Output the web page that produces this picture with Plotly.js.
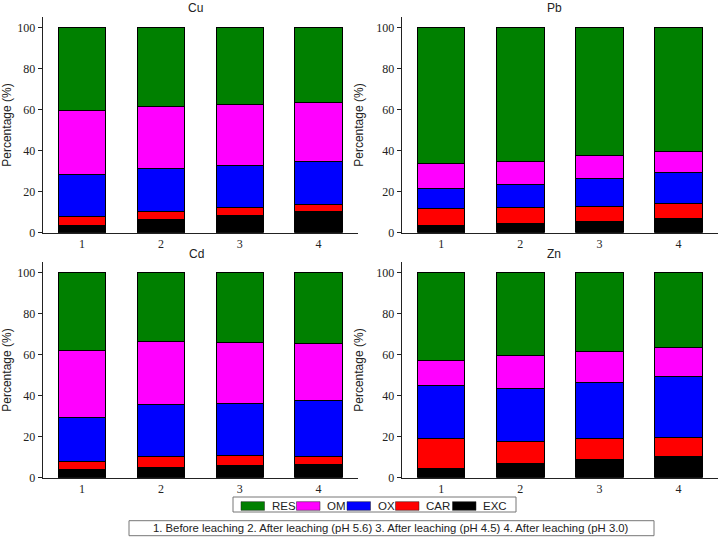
<!DOCTYPE html>
<html>
<head>
<meta charset="utf-8">
<script src="https://cdn.plot.ly/plotly-3.0.1.min.js"></script>
<style>
  body { margin: 0; background: #fff; }
  #chart { width: 720px; height: 540px; }
</style>
</head>
<body>
<div id="chart"></div>
<script>
/******************** DATA ********************/
const categories = ['1', '2', '3', '4'];
// fractions listed bottom -> top of each stack
const fractions = ['EXC', 'CAR', 'OX', 'OM', 'RES'];
const fractionColors = ['#000000', '#ff0000', '#0000ff', '#ff00ff', '#008000'];
const legendOrder = ['RES', 'OM', 'OX', 'CAR', 'EXC'];
const metals = ['Cu', 'Pb', 'Cd', 'Zn'];

// percentage of each fraction (rows follow `fractions`)
const cuValues = [
  [3.3, 6.3, 8.6, 10.1],
  [4.8, 3.9, 3.6, 3.6],
  [20.5, 21.3, 20.5, 21.1],
  [31.1, 30.1, 29.9, 28.8],
  [40.3, 38.4, 37.4, 36.4]
];
const pbValues = [
  [3.3, 4.4, 5.7, 6.8],
  [8.4, 7.8, 7.0, 7.3],
  [9.8, 11.5, 13.5, 15.2],
  [12.2, 10.9, 11.4, 10.2],
  [66.3, 65.4, 62.4, 60.5]
];
const cdValues = [
  [4.2, 4.9, 5.9, 6.3],
  [3.9, 5.3, 4.7, 3.9],
  [21.5, 25.6, 25.8, 27.4],
  [32.4, 30.5, 29.5, 27.8],
  [38.0, 33.7, 34.1, 34.6]
];
const znValues = [
  [4.7, 6.7, 8.8, 10.4],
  [14.2, 10.9, 10.5, 9.1],
  [26.3, 25.7, 27.0, 29.8],
  [11.9, 16.2, 15.2, 14.1],
  [42.9, 40.5, 38.5, 36.6]
];
const noteText = '1. Before leaching 2. After leaching (pH 5.6) 3. After leaching (pH 4.5) 4. After leaching (pH 3.0)';

/******************** LAYOUT HELPERS ********************/
const W = 720, H = 540;
const px = x => x / W;           // pixel -> paper x
const py = y => 1 - y / H;       // pixel -> paper y

// panel boxes in pixels: [left, right, top, bottom]
const panelBoxes = [
  [42.7, 358, 17.4, 232.7],
  [401.7, 718, 17.4, 232.7],
  [42.7, 358, 262.4, 477.7],
  [401.7, 718, 262.4, 477.7]
];
const titlePos = [[195, 8.5], [554, 8.5], [196.5, 253.5], [554, 253.5]];

const serif = 'Liberation Serif, Times New Roman, serif';
const sans = 'Liberation Sans, Arial, sans-serif';

/******************** TRACES ********************/
const allValues = [cuValues, pbValues, cdValues, znValues];
const traces = [];
allValues.forEach((vals, p) => {
  fractions.forEach((name, f) => {
    traces.push({
      type: 'bar',
      name: name,
      x: categories,
      y: vals[f],
      xaxis: 'x' + (p + 1),
      yaxis: 'y' + (p + 1),
      width: 0.6,
      marker: { color: fractionColors[f], line: { color: '#000', width: 1 } },
      showlegend: false,
      hoverinfo: 'y+name'
    });
  });
});

/******************** LAYOUT ********************/
const layout = {
  width: W,
  height: H,
  margin: { l: 0, r: 0, t: 0, b: 0 },
  paper_bgcolor: '#fff',
  plot_bgcolor: '#fff',
  barmode: 'stack',
  showlegend: false,
  annotations: [],
  shapes: []
};

panelBoxes.forEach((b, p) => {
  const n = p + 1;
  layout['xaxis' + n] = {
    domain: [px(b[0]), px(b[1])],
    anchor: 'y' + n,
    type: 'category',
    range: [-0.5, 3.5],
    showline: true,
    linecolor: '#222',
    linewidth: 1,
    ticks: '',
    showgrid: false,
    zeroline: false,
    tickfont: { family: serif, size: 12, color: '#222' }
  };
  layout['yaxis' + n] = {
    domain: [py(b[3]), py(b[2])],
    anchor: 'x' + n,
    range: [0, 105],
    dtick: 20,
    showline: true,
    linecolor: '#222',
    linewidth: 1,
    ticks: 'outside',
    ticklen: 4,
    tickcolor: '#222',
    showgrid: false,
    zeroline: false,
    tickfont: { family: serif, size: 12, color: '#222' },
    title: { text: 'Percentage (%)', font: { family: sans, size: 12, color: '#222' }, standoff: 10 }
  };
  layout.annotations.push({
    text: metals[p],
    xref: 'paper', yref: 'paper',
    x: px(titlePos[p][0]), y: py(titlePos[p][1]),
    xanchor: 'center', yanchor: 'middle',
    showarrow: false,
    font: { family: sans, size: 12, color: '#222' }
  });
});

// legend box drawn by hand so the swatches match the original shape
const legendSwatchX = [241, 296.5, 347, 395.5, 452.5];
layout.shapes.push({
  type: 'rect', xref: 'paper', yref: 'paper',
  x0: px(233), x1: px(516), y0: py(512), y1: py(497),
  line: { color: '#777', width: 1 }, fillcolor: 'rgba(0,0,0,0)'
});
legendOrder.forEach((name, i) => {
  const color = fractionColors[fractions.indexOf(name)];
  const x0 = legendSwatchX[i];
  layout.shapes.push({
    type: 'rect', xref: 'paper', yref: 'paper',
    x0: px(x0), x1: px(x0 + 23.5), y0: py(510.3), y1: py(501.7),
    line: { color: '#222', width: 0.5 }, fillcolor: color
  });
  layout.annotations.push({
    text: name,
    xref: 'paper', yref: 'paper',
    x: px(x0 + 28.5), y: py(506),
    xanchor: 'left', yanchor: 'middle',
    showarrow: false,
    font: { family: sans, size: 11.5, color: '#222' }
  });
});

// note box under the legend
layout.shapes.push({
  type: 'rect', xref: 'paper', yref: 'paper',
  x0: px(129), x1: px(654), y0: py(535.7), y1: py(520.7),
  line: { color: '#777', width: 1 }, fillcolor: 'rgba(0,0,0,0)'
});
layout.annotations.push({
  text: noteText,
  xref: 'paper', yref: 'paper',
  x: px(391.5), y: py(528.2),
  xanchor: 'center', yanchor: 'middle',
  showarrow: false,
  font: { family: sans, size: 11.3, color: '#222' }
});

Plotly.newPlot('chart', traces, layout, { displayModeBar: false, staticPlot: true });
</script>
</body>
</html>
